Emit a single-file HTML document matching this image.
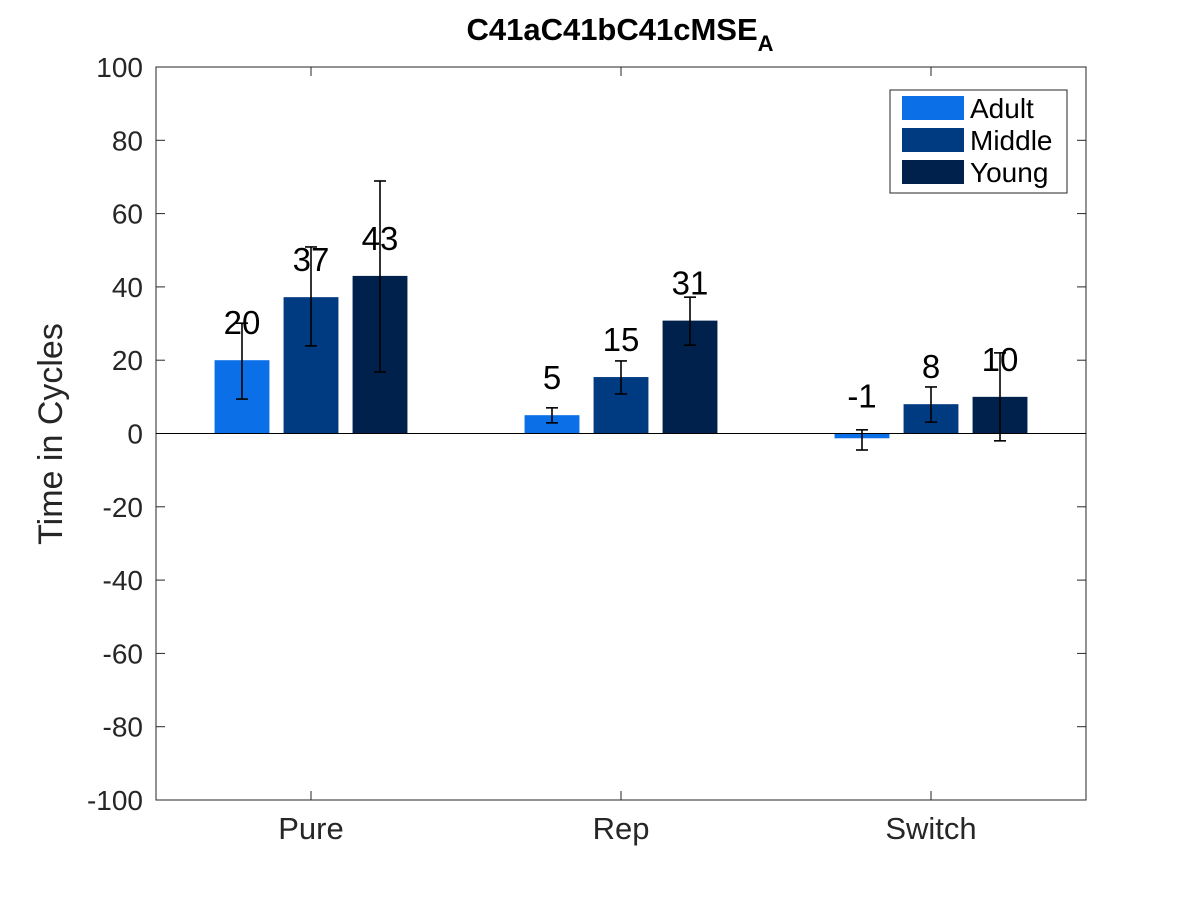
<!DOCTYPE html>
<html><head><meta charset="utf-8"><style>
body{margin:0;background:#fff;}
svg{display:block;font-family:"Liberation Sans",sans-serif;}
</style></head><body>
<svg id="chart" width="1200" height="900">
<text x="620" y="40" text-anchor="middle" font-size="31" font-weight="bold" fill="#000">C41aC41bC41cMSE<tspan font-size="22" dy="11">A</tspan></text>
<g id="plot"></g>
</svg>
<script>
const categories = ["Pure","Rep","Switch"];
const seriesNames = ["Adult","Middle","Young"];
const adultVals = [20, 5, -1.3];
const middleVals = [37.2, 15.4, 8];
const youngVals = [43, 30.8, 10];
const adultLabels = ["20","5","-1"];
const middleLabels = ["37","15","8"];
const youngLabels = ["43","31","10"];
const adultErrLow = [9.4, 2.9, -4.5];
const adultErrHigh = [30.1, 7, 1];
const middleErrLow = [23.9, 10.8, 3.1];
const middleErrHigh = [50.9, 19.8, 12.7];
const youngErrLow = [16.8, 24.1, -2];
const youngErrHigh = [68.9, 37.2, 22];
const yTicks = [-100,-80,-60,-40,-20,0,20,40,60,80,100];
const colors = ["#0b6fe8","#003b82","#00214b"];

const L=156,R=1086,T=67,B=800;
const ns="http://www.w3.org/2000/svg";
const g=document.getElementById('plot');
const y=v=>B-(v+100)/200*(B-T);
const x=v=>L+(v-0.5)/3*(R-L);
function mk(tag,attrs,parent){const e=document.createElementNS(ns,tag);for(const k in attrs)e.setAttribute(k,attrs[k]);(parent||g).appendChild(e);return e;}

const vals=[adultVals,middleVals,youngVals];
const labs=[adultLabels,middleLabels,youngLabels];
const lo=[adultErrLow,middleErrLow,youngErrLow];
const hi=[adultErrHigh,middleErrHigh,youngErrHigh];
const off=[-0.2226,0,0.2226], bw=0.177;

let box=mk('rect',{x:L,y:T,width:R-L,height:B-T,fill:'none',stroke:'#262626','stroke-width':1});


yTicks.forEach(t=>{
  let yy=y(t);
  mk('line',{x1:L,x2:L+9,y1:yy,y2:yy,stroke:'#262626'});
  mk('line',{x1:R,x2:R-9,y1:yy,y2:yy,stroke:'#262626'});
  let tx=mk('text',{x:L-13,y:yy+10,'text-anchor':'end','font-size':28,fill:'#262626'});
  tx.textContent=t;
  
  
});
categories.forEach((c,i)=>{
  let xx=x(i+1);
  mk('line',{x1:xx,x2:xx,y1:B,y2:B-9,stroke:'#262626'});
  mk('line',{x1:xx,x2:xx,y1:T,y2:T+9,stroke:'#262626'});
  let tx=mk('text',{x:xx,y:839,'text-anchor':'middle','font-size':31,fill:'#262626'});
  tx.textContent=c;
  
  
});
let yl=mk('text',{x:0,y:0,transform:'translate(62,434) rotate(-90)','text-anchor':'middle','font-size':34,fill:'#262626'});
yl.textContent='Time in Cycles';



for(let s=0;s<3;s++){
  for(let i=0;i<3;i++){
    const v=vals[s][i];
    const x0=x(i+1+off[s]-bw/2), x1=x(i+1+off[s]+bw/2);
    let r=mk('rect',{x:x0,y:Math.min(y(v),y(0)),width:x1-x0,height:Math.abs(y(v)-y(0)),fill:colors[s]});
    
    
  }
}
mk('line',{x1:L,x2:R,y1:y(0),y2:y(0),stroke:'#000','stroke-width':1});
for(let s=0;s<3;s++){
  for(let i=0;i<3;i++){
    const cx=x(i+1+off[s]);
    let eg=mk('g',{stroke:'#000','stroke-width':1.6});
    
    
    mk('line',{x1:cx,x2:cx,y1:y(lo[s][i]),y2:y(hi[s][i])},eg);
    mk('line',{x1:cx-6,x2:cx+6,y1:y(lo[s][i]),y2:y(lo[s][i])},eg);
    mk('line',{x1:cx-6,x2:cx+6,y1:y(hi[s][i]),y2:y(hi[s][i])},eg);
    let t=mk('text',{x:cx,y:y(Math.max(vals[s][i],0))-26,'text-anchor':'middle','font-size':33,fill:'#000'});
    t.textContent=labs[s][i];
    
    
  }
}
let lg=mk('g',{});


mk('rect',{x:890,y:90,width:177,height:103,fill:'#fff',stroke:'#262626'},lg);
seriesNames.forEach((n,k)=>{
  let e=mk('g',{},lg);
  
  
  mk('rect',{x:902,y:96+k*32,width:62,height:24,fill:colors[k]},e);
  let t=mk('text',{x:970,y:118+k*32,'font-size':28,fill:'#000'},e);
  t.textContent=n;
});
</script>
</body></html>
